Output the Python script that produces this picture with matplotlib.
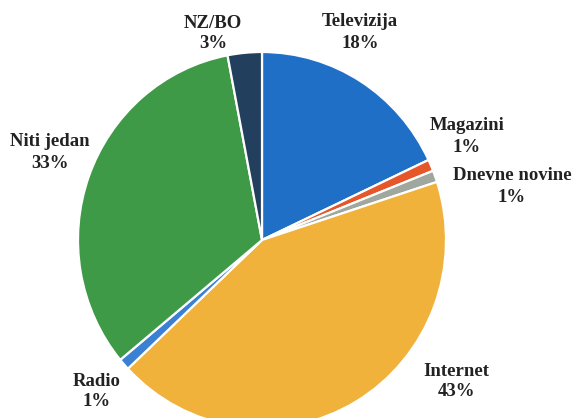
import matplotlib
matplotlib.use("Agg")
import matplotlib.pyplot as plt

categories = ["Televizija", "Magazini", "Dnevne novine", "Internet", "Radio", "Niti jedan", "NZ/BO"]
values = [18, 1, 1, 43, 1, 33, 3]
colors = ["#1f6fc6", "#e5572b", "#9fa79f", "#f0b23a", "#3b80d2", "#3e9a46", "#22405e"]
# label centres in pixel coords (from top-left)
label_pos = [(360, 22), (467, 126), (512, 176), (456, 371), (97, 381), (50, 142), (213, 23)]

W, H = 576, 418
fig = plt.figure(figsize=(W / 100, H / 100), dpi=100)
fig.patch.set_facecolor("white")

cx, cy, rx, ry = 262, 240, 184, 188
ax = fig.add_axes([(cx - rx) / W, (H - cy - ry) / H, 2 * rx / W, 2 * ry / H])
ax.pie(values, colors=colors, startangle=90, counterclock=False, radius=1,
       wedgeprops=dict(edgecolor="white", linewidth=1.6))
ax.set_aspect("auto")
ax.set_xlim(-1, 1)
ax.set_ylim(-1, 1)
ax.axis("off")

for cat, val, (px, py) in zip(categories, values, label_pos):
    fig.text(px / W, 1 - py / H, cat, ha="center", va="center",
             fontsize=13.5, fontweight="bold", family="Liberation Serif", color="#222222")
    fig.text(px / W, 1 - (py + 21) / H, f"{val}%", ha="center", va="center",
             fontsize=13.5, fontweight="bold", family="Liberation Serif", color="#222222")

fig.savefig("out.png", dpi=100, facecolor="white")
